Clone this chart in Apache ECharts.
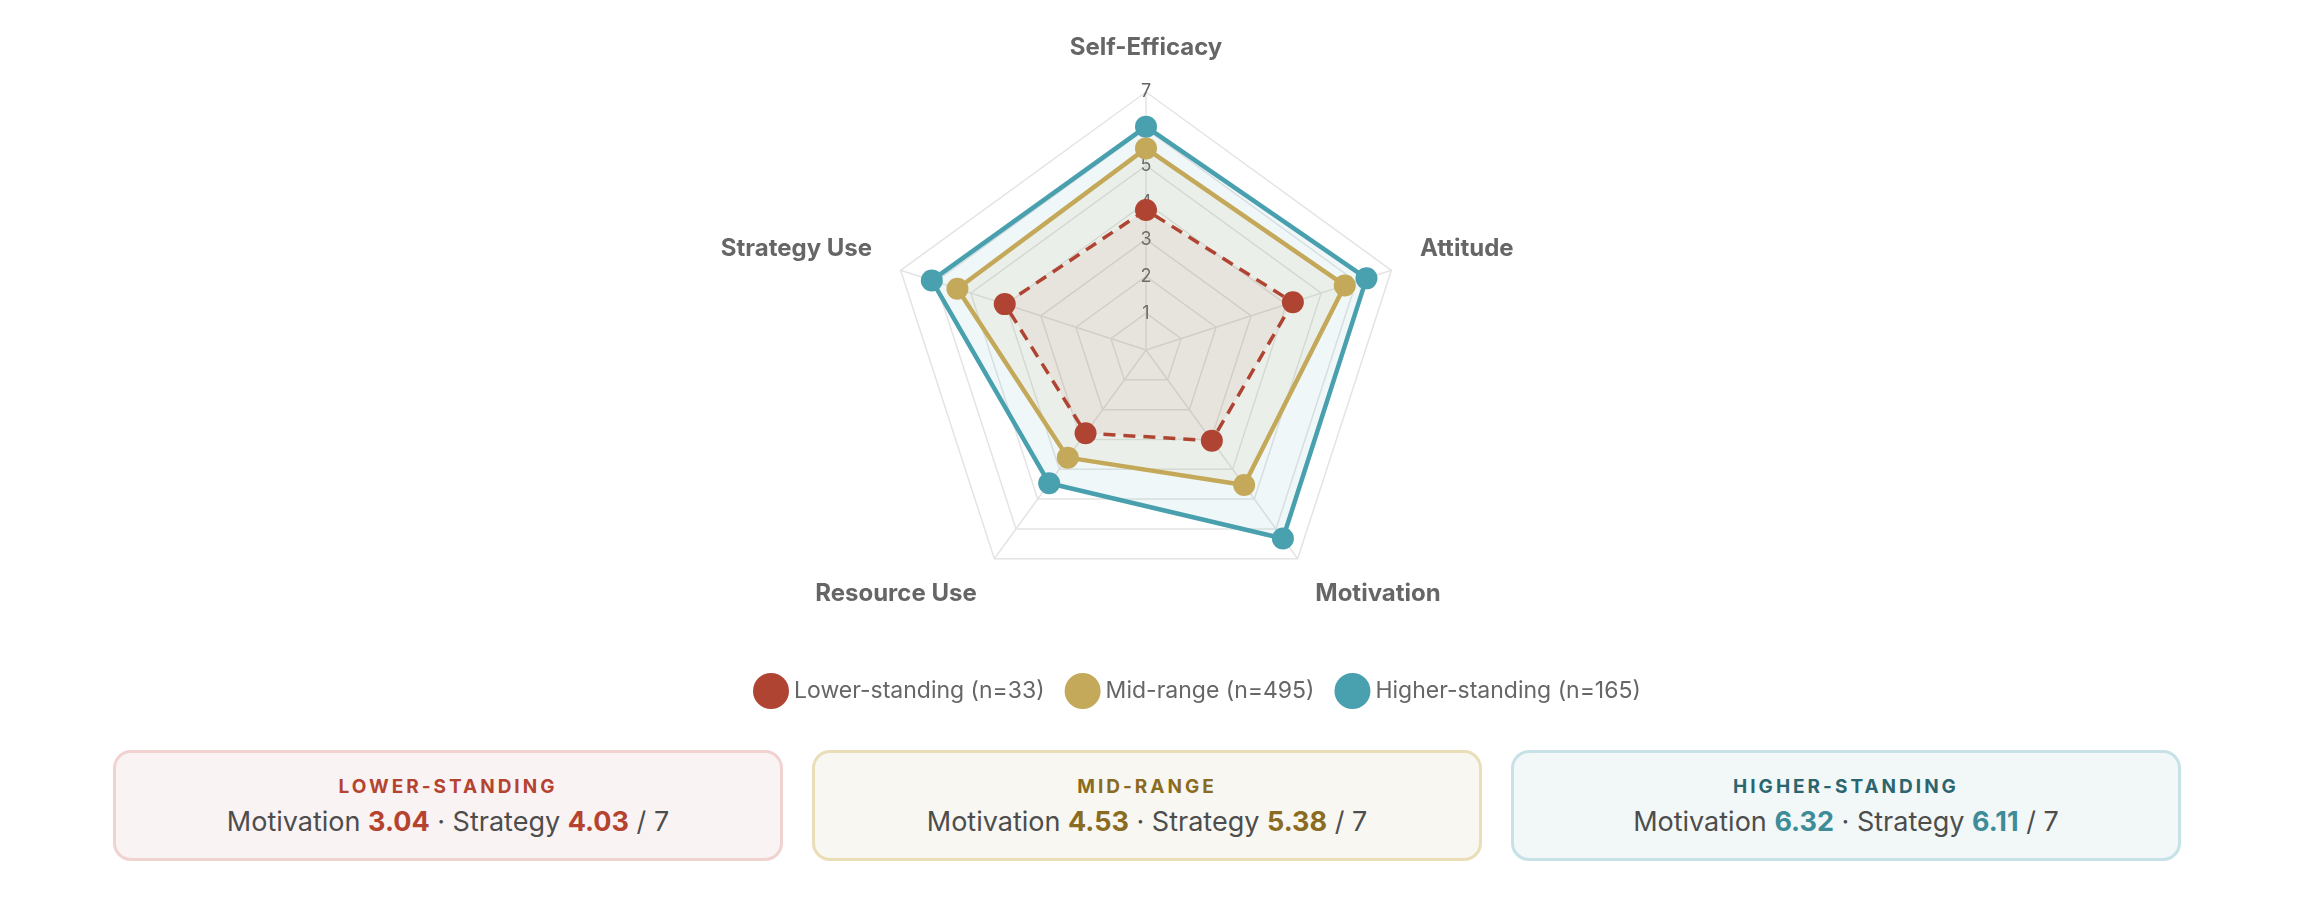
<!DOCTYPE html>
<html>
<head>
<meta charset="utf-8">
<script src="https://cdn.jsdelivr.net/npm/echarts@6/dist/echarts.min.js"></script>
<style>
    html, body { margin: 0; padding: 0; background: #fff; }
    body { width: 2324px; height: 914px; position: relative; overflow: hidden;
        font-family: Inter, "Noto Sans", sans-serif; }
    #chart { position: absolute; left: 0; top: 0; width: 2324px; height: 740px; }
    #cards { position: absolute; left: 113px; top: 750px; width: 2068px; display: flex;
        justify-content: space-between; }
    .card { box-sizing: border-box; width: 670px; height: 111px; border: 3px solid;
        border-radius: 18px; text-align: center; }
    .card .t { margin-top: 22px; font-size: 19px; font-weight: 700; letter-spacing: 3px; line-height: 24px; }
    .card .b { margin-top: 6px; font-size: 27px; color: #4d4d4d; line-height: 34px; }
    .card .b b { font-weight: 700; }
</style>
</head>
<body>
<div id="chart"></div>
<div id="cards"></div>
<script>
(function() {
    'use strict';

    // 雷达图 维度
    var indicators = ['Self-Efficacy', 'Strategy Use', 'Resource Use', 'Motivation', 'Attitude'];
    var axisMax = 7;

    // 各组 得分 (与 indicators 顺序一致)
    var lowerScores  = [3.80, 4.03, 2.79, 3.04, 4.19];
    var midScores    = [5.47, 5.38, 3.61, 4.53, 5.67];
    var higherScores = [6.06, 6.11, 4.47, 6.32, 6.29];

    var groupNames  = ['Lower-standing (n=33)', 'Mid-range (n=495)', 'Higher-standing (n=165)'];
    var cardTitles  = ['LOWER-STANDING', 'MID-RANGE', 'HIGHER-STANDING'];

    var colors = ['#b04432', '#c4a95a', '#49a0ae'];
    var fills  = ['rgba(176,68,50,0.10)', 'rgba(196,169,90,0.13)', 'rgba(73,160,174,0.12)'];
    var cardStyle = [
        { bg: '#faf3f3', border: '#f0d3d0', title: '#b5432f', num: '#b5432f' },
        { bg: '#f8f7f1', border: '#e9deb8', title: '#8a6b22', num: '#8a6b22' },
        { bg: '#f2f8f8', border: '#c6e2e6', title: '#2b6670', num: '#3d8c98' },
    ];

    // 轴名 位置微调 (上 / 侧 / 下)
    var namePlace = { 'Self-Efficacy' : 'top', 'Strategy Use' : 'side', 'Attitude' : 'side',
        'Resource Use' : 'bottom', 'Motivation' : 'bottom' };

    var allScores = [lowerScores, midScores, higherScores];

    var myChart = echarts.init(document.getElementById('chart'));

    var seriesData = [];
    // 先画高分组, 低分组在最上层
    for (var i = allScores.length - 1; i >= 0; i--) {
        seriesData.push({
            name : groupNames[i],
            value : allScores[i],
            symbol : 'circle',
            symbolSize : 22,
            itemStyle : { color : colors[i] },
            lineStyle : i === 0
                ? { color : colors[i], width : 3.5, type : [12, 8] }
                : { color : colors[i], width : 4.5 },
            areaStyle : { color : fills[i] },
        });
    }

    var nameFont = { color : '#666', fontSize : 24, fontWeight : 'bold', fontFamily : 'Inter' };

    var option = {
        animation : false,
        textStyle : { fontFamily : 'Inter' },
        legend : {
            data : groupNames,
            left : 748,
            top : 668,
            icon : 'circle',
            itemWidth : 36,
            itemHeight : 36,
            itemGap : 20,
            textStyle : { color : '#666', fontSize : 23, fontFamily : 'Inter' },
        },
        radar : {
            center : [1146, 350],
            radius : 258,
            splitNumber : 7,
            shape : 'polygon',
            nameGap : 30,
            axisName : {
                color : '#666', fontSize : 24, fontWeight : 'bold', fontFamily : 'Inter',
                formatter : function(name) {
                    return '{' + namePlace[name] + '|' + name + '}';
                },
                rich : {
                    top : $extend(nameFont, { padding : [0, 0, 2, 0] }),
                    side : $extend(nameFont, { padding : [0, 0, 25, 0] }),
                    bottom : $extend(nameFont, { padding : [22, 0, 0, 0] }),
                },
            },
            splitLine : { lineStyle : { color : '#e4e4e4', width : 1.5 } },
            axisLine : { lineStyle : { color : '#e4e4e4', width : 1.5 } },
            splitArea : { show : false },
            axisTick : { show : false },
            axisLabel : { show : false },
            indicator : indicators.map(function(name, idx) {
                var ind = { name : name, min : 0, max : axisMax };
                if (idx === 0) {
                    ind.axisLabel = {
                        show : true,
                        margin : 0,
                        align : 'center',
                        verticalAlign : 'middle',
                        color : '#666',
                        fontSize : 18,
                        fontFamily : 'Inter',
                        showMinLabel : false,
                        formatter : function(v) { return v === 0 ? '' : String(v); },
                    };
                }
                return ind;
            }),
        },
        series : [{
            type : 'radar',
            data : seriesData,
        }],
    };
    myChart.setOption(option);

    function $extend(a, b) {
        var o = {}, k;
        for (k in a) { o[k] = a[k]; }
        for (k in b) { o[k] = b[k]; }
        return o;
    }

    // 概览卡片: Motivation 与 Strategy Use
    var motIdx = indicators.indexOf('Motivation');
    var strIdx = indicators.indexOf('Strategy Use');
    var html = '';
    for (var k = 0; k < allScores.length; k++) {
        var s = cardStyle[k];
        html += '<div class="card" style="background:' + s.bg + ';border-color:' + s.border + '">'
            + '<div class="t" style="color:' + s.title + '">' + cardTitles[k] + '</div>'
            + '<div class="b">Motivation <b style="color:' + s.num + '">' + allScores[k][motIdx].toFixed(2)
            + '</b> · Strategy <b style="color:' + s.num + '">' + allScores[k][strIdx].toFixed(2)
            + '</b> / ' + axisMax + '</div>'
            + '</div>';
    }
    document.getElementById('cards').innerHTML = html;
})();
</script>
</body>
</html>
